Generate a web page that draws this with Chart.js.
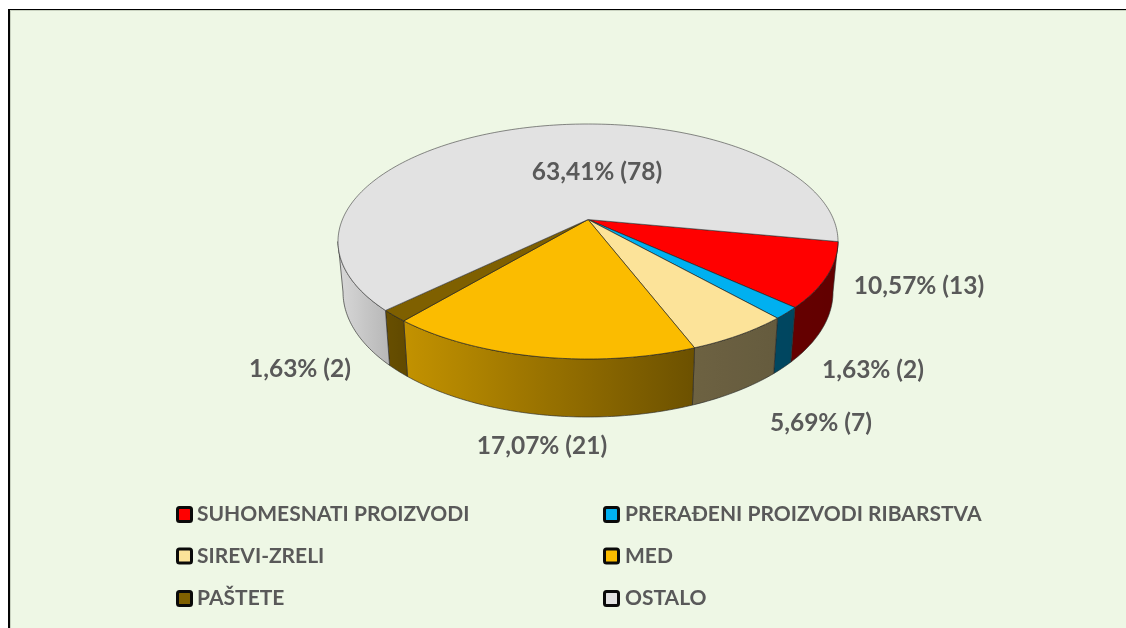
<!DOCTYPE html>
<html><head><meta charset="utf-8">
<script src="https://cdn.jsdelivr.net/npm/chart.js@4"></script>
<style>
html,body{margin:0;padding:0;background:#fff;overflow:hidden}
#frame{position:absolute;left:8px;top:9px;right:0;bottom:0;background:#EEF7E5;border-left:2px solid #050505;border-top:1px solid #000;box-shadow:inset 1px 1px 0 #c9d2c0}
canvas{position:absolute;left:0;top:0}
</style></head><body>
<div id="frame"></div>
<canvas id="c" width="1126" height="628"></canvas>
<script>
const categories = ["SUHOMESNATI PROIZVODI","PRERAĐENI PROIZVODI RIBARSTVA","SIREVI-ZRELI","MED","PAŠTETE","OSTALO"];
const counts = [13,2,7,21,2,78];
const sliceColors = ["#FF0000","#00B0F0","#FCE399","#FBBC00","#7F6000","#E2E2E2"];

// view of the tilted disc
const apex={x:588,y:219.5};
const topRim={cx:588,cy:241.5,rx:250,ry:117.5};
const lowRim={cx:588,cy:292,rx:245,ry:125};
const TXT='#595959', LABEL_FONT='bold 24.5px Lato', LEGEND_FONT='bold 21px Lato';
const shadeStops=[[340,.95],[400,.78],[695,.43],[840,.38]];
const labelAnchors=[[919,286],[873,370],[821,423],[542,446],[300,369],[597,172]];
const legendPos=[[176,506,197],[603,506,625],[176,547.5,197],[603,547.5,625],[176,590,197],[603,590,625]];

const rad=d=>d*Math.PI/180;
// perspective distortion of the rim angle
function rimAngle(a){
  const d=a*180/Math.PI;
  return d+3.45+11.4*Math.cos(rad(d-170))+7.8*Math.pow(Math.cos(rad(d/2)),60);
}
const pt=(r,t)=>({x:r.cx+r.rx*Math.cos(rad(t)),y:r.cy+r.ry*Math.sin(rad(t))});
function shade(x){
  const s=shadeStops;
  if(x<=s[0][0])return s[0][1];
  for(let i=1;i<s.length;i++) if(x<=s[i][0]){const f=(x-s[i-1][0])/(s[i][0]-s[i-1][0]);return s[i-1][1]+f*(s[i][1]-s[i-1][1]);}
  return s[s.length-1][1];
}
function rgb(hex,k){
  const n=parseInt(hex.slice(1),16);
  return `rgb(${Math.round((n>>16&255)*k)},${Math.round((n>>8&255)*k)},${Math.round((n&255)*k)})`;
}
const pie3d={id:'pie3d',
  beforeDatasetsDraw(chart){
    const ctx=chart.ctx, arcs=chart.getDatasetMeta(0).data;
    ctx.save();ctx.lineJoin='round';
    const ranges=arcs.map(a=>[rimAngle(a.startAngle),rimAngle(a.endAngle)]);
    // walls
    arcs.forEach((a,i)=>{
      const col=a.options.backgroundColor;
      const t1=Math.max(ranges[i][0],0),t2=Math.min(ranges[i][1],180);
      if(t2<=t1)return;
      ctx.beginPath();
      for(let t=t1;;t+=1){const tt=Math.min(t,t2),p=pt(topRim,tt);ctx.lineTo(p.x,p.y);if(tt>=t2)break;}
      for(let t=t2;;t-=1){const tt=Math.max(t,t1),p=pt(lowRim,tt);ctx.lineTo(p.x,p.y);if(tt<=t1)break;}
      ctx.closePath();
      const xa=Math.min(pt(topRim,t1).x,pt(topRim,t2).x,pt(lowRim,t1).x,pt(lowRim,t2).x);
      const xb=Math.max(pt(topRim,t1).x,pt(topRim,t2).x,pt(lowRim,t1).x,pt(lowRim,t2).x);
      const g=ctx.createLinearGradient(xa,0,xb,0);
      for(let k=0;k<=8;k++){const x=xa+(xb-xa)*k/8;g.addColorStop(k/8,rgb(col,shade(x)));}
      ctx.fillStyle=g;ctx.fill();
      ctx.strokeStyle='rgba(40,40,40,.8)';ctx.lineWidth=.8;ctx.stroke();
    });
    // top faces
    arcs.forEach((a,i)=>{
      ctx.beginPath();ctx.moveTo(apex.x,apex.y);
      const [t1,t2]=ranges[i];
      for(let t=t1;;t+=1){const tt=Math.min(t,t2),p=pt(topRim,tt);ctx.lineTo(p.x,p.y);if(tt>=t2)break;}
      ctx.closePath();
      ctx.fillStyle=a.options.backgroundColor;ctx.fill();
      ctx.strokeStyle=i==5?'rgba(60,60,60,.75)':'rgba(30,30,30,.8)';ctx.lineWidth=.8;ctx.stroke();
    });
    ctx.restore();
    return false;
  },
  afterDraw(chart){
    const ctx=chart.ctx,vals=chart.data.datasets[0].data,labs=chart.data.labels;
    const total=vals.reduce((a,b)=>a+b,0),cols=chart.data.datasets[0].backgroundColor;
    ctx.save();ctx.fillStyle=TXT;ctx.textBaseline='middle';
    vals.forEach((v,i)=>{
      ctx.textAlign='center';ctx.fillStyle=TXT;ctx.font=LABEL_FONT;
      ctx.fillText((v/total*100).toFixed(2).replace('.',',')+'% ('+v+')',labelAnchors[i][0],labelAnchors[i][1]);
      const [mx,my,tx]=legendPos[i];
      ctx.beginPath();ctx.roundRect(mx+1.5,my+1.5,14,14,2);
      ctx.fillStyle=cols[i];ctx.fill();ctx.lineWidth=3;ctx.strokeStyle='#0a0a0a';ctx.stroke();
      ctx.textAlign='left';ctx.fillStyle=TXT;ctx.font=LEGEND_FONT;
      ctx.fillText(labs[i],tx,my+8.5);
    });
    ctx.restore();
  }
};
new Chart(document.getElementById('c'),{
  type:'pie',
  data:{labels:categories,datasets:[{data:counts,backgroundColor:sliceColors}]},
  options:{responsive:false,animation:false,rotation:90,events:[],
    plugins:{legend:{display:false},tooltip:{enabled:false}}},
  plugins:[pie3d]
});
</script></body></html>
